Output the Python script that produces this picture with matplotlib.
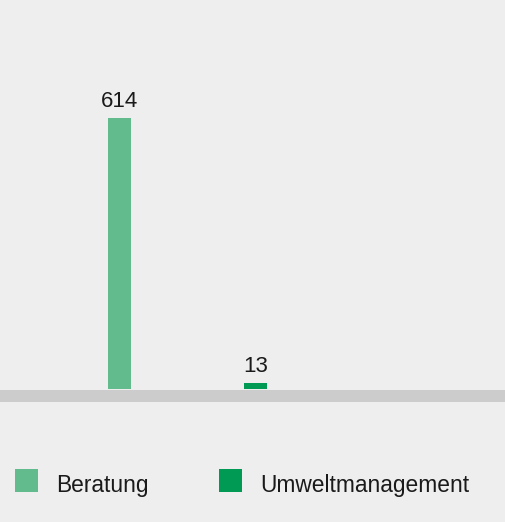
import matplotlib
matplotlib.use("Agg")
import matplotlib.pyplot as plt
from matplotlib.patches import Rectangle

categories = ["Beratung", "Umweltmanagement"]
values = [614, 13]
colors = ["#62bb8d", "#009a55"]

W, H = 506, 522
fig = plt.figure(figsize=(W / 100, H / 100), dpi=100, facecolor="#eeeeee")
plt.rcParams["font.family"] = ["Liberation Sans", "DejaVu Sans"]

# axes: bottom at y=389px from top, full width
ax = fig.add_axes([0, (H - 389) / H, 1, 389 / H])
ax.set_facecolor("#eeeeee")
px_per_unit = 136
x0 = 119.5
ax.set_xlim(-x0 / px_per_unit, (W - x0) / px_per_unit)
ax.set_ylim(0, 389 / 271 * 614)
xs = list(range(len(values)))
bars = ax.bar(xs, values, width=23 / px_per_unit, color=colors)
for x, v in zip(xs, values):
    ax.annotate(str(v), (x, v), xytext=(0, 11), textcoords="offset pixels",
                ha="center", va="baseline", fontsize=16, color="#1a1a1a")
ax.axis("off")

# baseline band
fig.patches.append(Rectangle((0, (H - 402) / H), 1, 12 / H, transform=fig.transFigure,
                             facecolor="#cccccc", edgecolor="none", zorder=5))

# legend
leg_x = [15, 219]
for lx, cat, col in zip(leg_x, categories, colors):
    fig.patches.append(Rectangle((lx / W, (H - 492) / H), 23 / W, 23 / H, transform=fig.transFigure,
                                 facecolor=col, edgecolor="none"))
    fig.text((lx + 41) / W, (H - 492) / H, cat, ha="left", va="baseline", fontsize=16.4, color="#1a1a1a")

fig.savefig("out.png", dpi=100, facecolor=fig.get_facecolor())
